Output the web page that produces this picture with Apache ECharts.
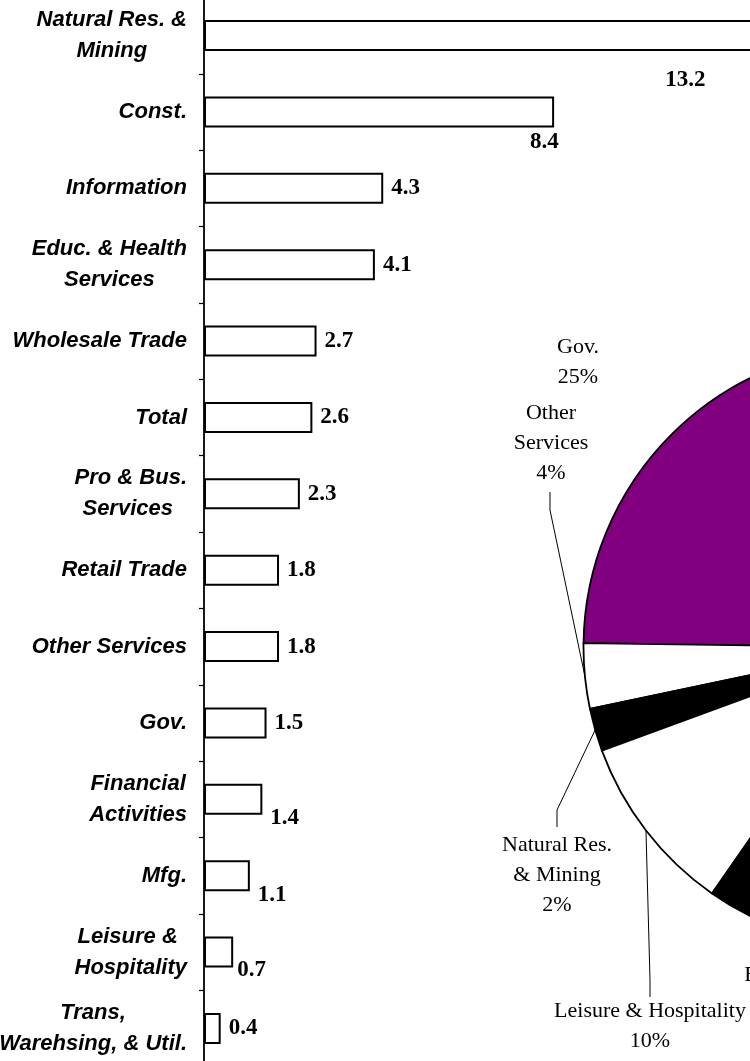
<!DOCTYPE html>
<html>
<head>
<meta charset="utf-8">
<script src="https://cdn.jsdelivr.net/npm/echarts@6/dist/echarts.min.js"></script>
<style>
html,body{margin:0;padding:0;background:#fff;}
#c{width:750px;height:1061px;}
</style>
</head>
<body>
<div id="c"></div>
<script>
// ---- data ----
const categories = [
  'Natural Res. &\nMining', 'Const.', 'Information', 'Educ. & Health\nServices',
  'Wholesale Trade', 'Total', 'Pro & Bus.\nServices ', 'Retail Trade',
  'Other Services', 'Gov.', 'Financial\nActivities', 'Mfg.',
  'Leisure & \nHospitality', 'Trans,\nWarehsing, & Util.'
];
const growth = [13.2, 8.4, 4.3, 4.1, 2.7, 2.6, 2.3, 1.8, 1.8, 1.5, 1.4, 1.1, 0.7, 0.4];

const pieNames = [
  'Gov.', 'Other\nServices', 'Natural Res.\n& Mining', 'Leisure & Hospitality',
  'Educ. & Health\nServices', 'Pro & Bus.\nServices', 'Retail Trade', 'Const.',
  'Financial\nActivities', 'Mfg.', 'Trans, Warehsing,\n& Util.', 'Wholesale Trade', 'Information'
];
const pieShares = [24.8, 3.5, 2.3, 9.7, 12, 13, 12, 6, 4.5, 4, 3.2, 3, 2];

// ---- styling / layout ----
const pieColors = pieNames.map((n, i) => i === 0 ? '#800080' : (i % 2 === 1 ? '#ffffff' : '#000000'));
// bar value-label nudges (index -> [dx, dy])
const barLabelNudge = { 0: [-97, 44], 1: [-32, 30], 10: [0, 19], 11: [0, 19], 12: [-4, 18] };
// pie label placement (index -> label centre, leader bend points)
const pieLabelPos = {
  0: { x: 578, y: 362 },
  1: { x: 551, y: 443, leader: [[550, 510], [550, 492]] },
  2: { x: 557, y: 875, leader: [[557, 810], [557, 827]] },
  3: { x: 650, y: 1026, leader: [[650, 980], [650, 997]] },
  4: { x: 813, y: 1005 }
};

const catFont = { fontFamily: 'Liberation Sans', fontSize: 22, fontWeight: 'bold', fontStyle: 'italic', color: '#000', lineHeight: 31 };

const chart = echarts.init(document.getElementById('c'), null, { renderer: 'canvas' });
chart.setOption({
  animation: false,
  backgroundColor: '#fff',
  grid: { left: 204, right: 25, top: -2.6, bottom: -5.65, containLabel: false, outerBoundsMode: 'none' },
  xAxis: { type: 'value', min: 0, max: 12.5, show: false },
  yAxis: {
    type: 'category',
    inverse: true,
    data: categories,
    axisLine: { show: true, lineStyle: { color: '#000', width: 1.8 } },
    axisTick: { show: true, length: 5, lineStyle: { color: '#000', width: 1.2 } },
    axisLabel: {
      interval: 0,
      margin: 17,
      formatter: v => v.split('\n').map(s => '{c|' + s + '}').join('\n'),
      rich: { c: Object.assign({ align: 'center' }, catFont) }
    },
    splitLine: { show: false }
  },
  series: [
    {
      type: 'bar',
      barWidth: 31,
      clip: false,
      itemStyle: { color: '#fff', borderColor: '#000', borderWidth: 2 },
      label: {
        show: true,
        position: 'right',
        distance: 8,
        fontFamily: 'Liberation Serif',
        fontWeight: 'bold',
        fontSize: 23,
        color: '#000',
        formatter: p => p.value.toFixed(1)
      },
      data: growth.map((v, i) => barLabelNudge[i]
        ? { value: v, label: { offset: barLabelNudge[i] } }
        : v)
    },
    {
      type: 'pie',
      center: [884, 647],
      radius: 300.5,
      startAngle: 90,
      clockwise: false,
      avoidLabelOverlap: false,
      itemStyle: { borderColor: '#000', borderWidth: 1.8 },
      label: {
        show: true,
        position: 'outside',
        formatter: p => p.name + '\n' + Math.round(p.percent) + '%',
        fontFamily: 'Liberation Serif',
        fontSize: 22,
        lineHeight: 30,
        color: '#000',
        align: 'center'
      },
      labelLine: { show: true, length: 10, length2: 10, lineStyle: { color: '#000', width: 1 } },
      labelLayout: function (p) {
        const cfg = pieLabelPos[p.dataIndex];
        if (!cfg) return {};
        const out = { x: cfg.x, y: cfg.y, align: 'center', verticalAlign: 'middle' };
        if (cfg.leader && p.labelLinePoints) {
          const start = [p.labelLinePoints[0][0], p.labelLinePoints[0][1]];
          out.labelLinePoints = [start, cfg.leader[0], cfg.leader[1]];
        }
        return out;
      },
      data: pieNames.map((n, i) => ({
        name: n,
        value: pieShares[i],
        itemStyle: { color: pieColors[i] },
        labelLine: { show: !!(pieLabelPos[i] && pieLabelPos[i].leader) || !pieLabelPos[i] }
      }))
    }
  ]
});
</script>
</body>
</html>
